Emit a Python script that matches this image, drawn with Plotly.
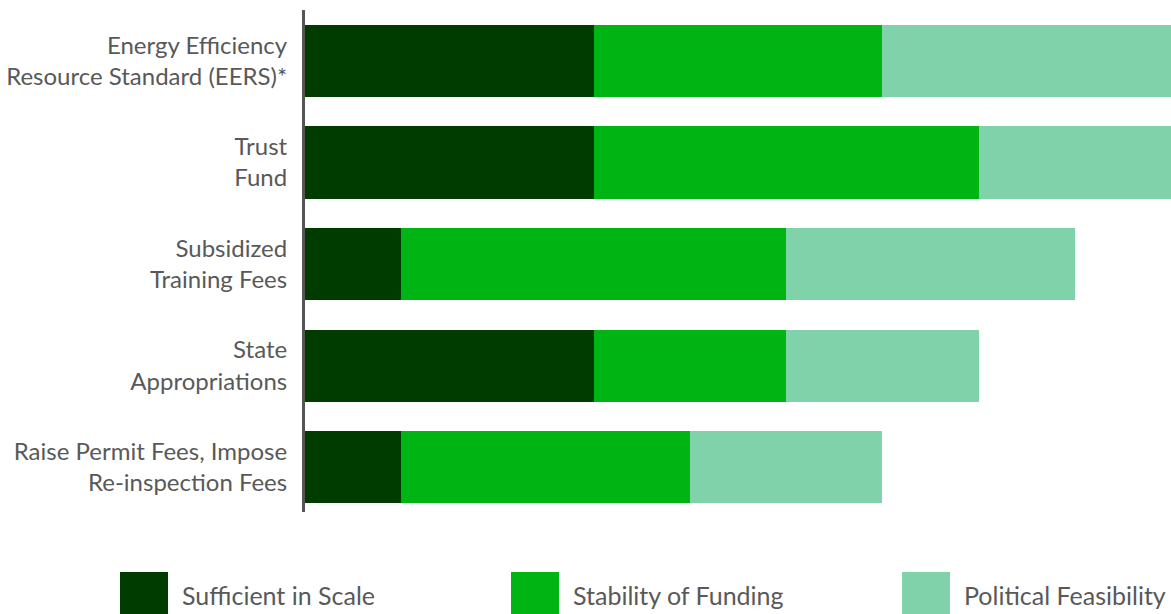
import plotly.graph_objects as go

categories = [
    "Energy Efficiency<br>Resource Standard (EERS)*",
    "Trust<br>Fund",
    "Subsidized<br>Training Fees",
    "State<br>Appropriations",
    "Raise Permit Fees, Impose<br>Re-inspection Fees",
]
sufficient_in_scale = [3, 3, 1, 3, 1]
stability_of_funding = [3, 4, 4, 2, 3]
political_feasibility = [3, 2, 3, 2, 2]

series_names = ["Sufficient in Scale", "Stability of Funding", "Political Feasibility"]
series_values = [sufficient_in_scale, stability_of_funding, political_feasibility]
colors = ["#003c00", "#00b414", "#80d2aa"]

FONT = "Lato"
GREY = "#595959"

W, H = 1171, 614
ML, MR, MT, MB = 305, 0, 10, 102
PW, PH = W - ML - MR, H - MT - MB

fig = go.Figure()
for name, vals, col in zip(series_names, series_values, colors):
    fig.add_trace(go.Bar(
        y=categories, x=vals, name=name, orientation="h",
        marker=dict(color=col, line=dict(width=0)),
        showlegend=False, hoverinfo="x+name",
    ))

def px_x(px):
    return (px - ML) / PW

def px_y(py):
    return (H - MB - py) / PH

# custom legend with large swatches
legend_x = [120, 511, 902]
for name, col, lx in zip(series_names, colors, legend_x):
    fig.add_shape(type="rect", xref="paper", yref="paper",
                  x0=px_x(lx), x1=px_x(lx + 48), y0=px_y(614), y1=px_y(572),
                  fillcolor=col, line=dict(width=0))
    fig.add_annotation(xref="paper", yref="paper", x=px_x(lx + 60), y=px_y(595),
                       text=name, showarrow=False, xanchor="left", yanchor="middle",
                       font=dict(family=FONT, size=25, color=GREY))

fig.update_layout(
    barmode="stack",
    bargap=0.29,
    width=W, height=H,
    margin=dict(l=ML, r=MR, t=MT, b=MB, pad=0),
    plot_bgcolor="white", paper_bgcolor="white",
    font=dict(family=FONT, size=24, color=GREY),
    xaxis=dict(range=[0, 9], visible=False, showgrid=False, zeroline=False),
    yaxis=dict(
        autorange=False, range=[4.44, -0.5],
        showline=True, linecolor="#555555", linewidth=3,
        ticks="", showgrid=False, zeroline=False,
        ticklabelstandoff=10,
        tickfont=dict(family=FONT, size=24, color=GREY),
    ),
)

fig.write_html("out.html")
